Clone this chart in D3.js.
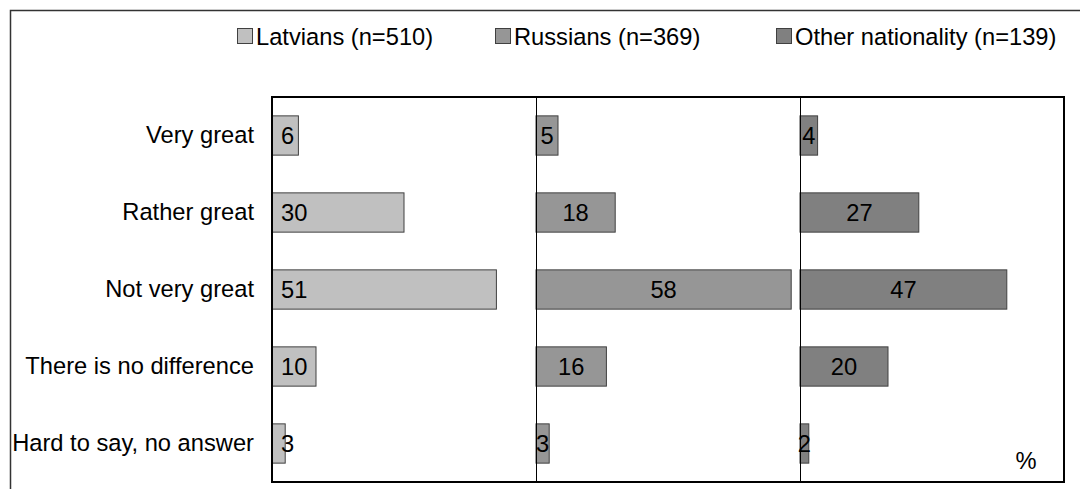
<!DOCTYPE html>
<html>
<head>
<meta charset="utf-8">
<script src="https://cdn.jsdelivr.net/npm/d3@7"></script>
<style>
  body { margin: 0; background: #fff; }
  svg { display: block; font-family: "Liberation Sans", Arial, sans-serif; }
</style>
</head>
<body>
<svg id="chart" width="1080" height="489"></svg>
<script>
// chart data
var categories = ["Very great", "Rather great", "Not very great", "There is no difference", "Hard to say, no answer"];
var latvians = [6, 30, 51, 10, 3];
var russians = [5, 18, 58, 16, 3];
var others = [4, 27, 47, 20, 2];
var seriesNames = ["Latvians (n=510)", "Russians (n=369)", "Other nationality (n=139)"];
var seriesColors = ["#c0c0c0", "#969696", "#808080"];

var series = [latvians, russians, others];

var svg = d3.select("#chart"),
    fontSize = 23.7;

var plot = {left: 272, top: 97, right: 1064, bottom: 482};
var panelW = (plot.right - plot.left) / 3;

// outer frame (cut off at right and bottom)
svg.append("path")
    .attr("d", "M10.5,489 L10.5,10.5 L1080,10.5")
    .attr("fill", "none")
    .attr("stroke", "#333")
    .attr("stroke-width", 1.5);

var yScale = d3.scaleBand()
    .domain(categories)
    .range([plot.top, plot.bottom])
    .paddingInner(0.49)
    .paddingOuter(0.245);

var xScale = d3.scaleLinear().domain([0, 60]).range([0, panelW]);

// bars per panel
series.forEach(function(vals, i) {
    var x0 = plot.left + i * panelW;
    var g = svg.append("g").attr("transform", "translate(" + x0 + ",0)");

    g.selectAll("rect")
        .data(vals)
        .enter()
        .append("rect")
        .attr("x", 0)
        .attr("y", function(d, j) { return yScale(categories[j]); })
        .attr("width", function(d) { return xScale(d); })
        .attr("height", yScale.bandwidth())
        .attr("fill", seriesColors[i])
        .attr("stroke", "#404040")
        .attr("stroke-width", 1);

    g.selectAll("text")
        .data(vals)
        .enter()
        .append("text")
        .attr("x", function(d) { return i == 0 ? 9 : xScale(d) / 2; })
        .attr("y", function(d, j) { return yScale(categories[j]) + yScale.bandwidth() / 2; })
        .attr("dy", "0.36em")
        .attr("text-anchor", i == 0 ? "start" : "middle")
        .style("font-size", fontSize + "px")
        .attr("fill", "#000")
        .text(function(d) { return d; });
});

// panel dividers
[1, 2].forEach(function(k) {
    var x = Math.round(plot.left + k * panelW) + 0.5;
    svg.append("line")
        .attr("x1", x).attr("x2", x)
        .attr("y1", plot.top).attr("y2", plot.bottom)
        .attr("stroke", "#000")
        .attr("stroke-width", 1);
});

// plot area border
svg.append("rect")
    .attr("x", plot.left)
    .attr("y", plot.top)
    .attr("width", plot.right - plot.left)
    .attr("height", plot.bottom - plot.top)
    .attr("fill", "none")
    .attr("stroke", "#000")
    .attr("stroke-width", 2);

// category axis
var yAxis = svg.append("g")
    .attr("transform", "translate(" + plot.left + ",0)")
    .call(d3.axisLeft(yScale).tickSize(0).tickPadding(18));
yAxis.select(".domain").remove();
yAxis.selectAll("text")
    .style("font-size", fontSize + "px")
    .style("font-family", "Liberation Sans, Arial, sans-serif")
    .attr("fill", "#000");

// unit label
svg.append("text")
    .attr("x", 1026)
    .attr("y", 469)
    .attr("text-anchor", "middle")
    .style("font-size", fontSize + "px")
    .text("%");

// legend
var legendX = [237, 495, 776];
var legend = svg.append("g");
seriesNames.forEach(function(name, i) {
    legend.append("rect")
        .attr("x", legendX[i] + 0.5)
        .attr("y", 28.5)
        .attr("width", 15)
        .attr("height", 15)
        .attr("fill", seriesColors[i])
        .attr("stroke", "#404040")
        .attr("stroke-width", 1);
    legend.append("text")
        .attr("x", legendX[i] + 19)
        .attr("y", 36)
        .attr("dy", "0.36em")
        .style("font-size", fontSize + "px")
        .text(name);
});
</script>
</body>
</html>
